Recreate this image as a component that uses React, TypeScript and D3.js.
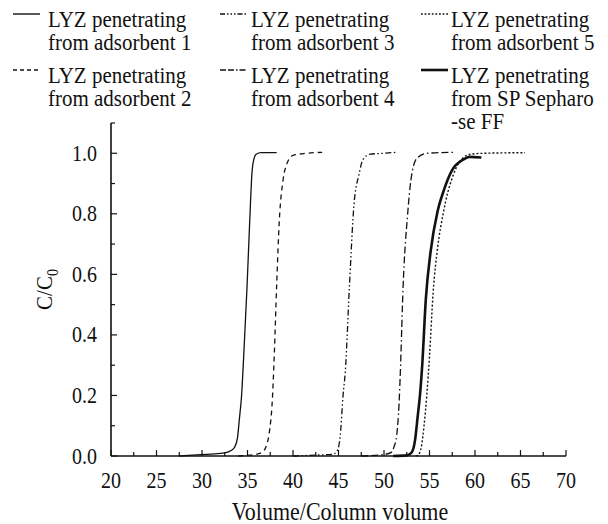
import React from "react";
import * as d3 from "d3";

// ---- data ----
const adsorbent1: [number, number][] = [
  [27.5, 0], [29, 0.003], [31, 0.006], [32.5, 0.01], [33.2, 0.018], [33.6, 0.03],
  [33.9, 0.06], [34.1, 0.12], [34.35, 0.2], [34.6, 0.34], [34.95, 0.56], [35.25, 0.78],
  [35.5, 0.94], [35.7, 0.98], [35.95, 0.997], [36.5, 1.002], [38.2, 1.002],
];
const adsorbent2: [number, number][] = [
  [34, 0], [35, 0.002], [36, 0.006], [36.6, 0.012], [37.1, 0.036], [37.45, 0.09],
  [37.7, 0.17], [37.95, 0.34], [38.2, 0.56], [38.5, 0.78], [38.9, 0.91], [39.35, 0.967],
  [40, 0.993], [41.5, 1.0], [43.2, 1.003],
];
const adsorbent3: [number, number][] = [
  [40, 0], [42.5, 0.003], [44.4, 0.006], [44.9, 0.02], [45.2, 0.07], [45.5, 0.2],
  [45.75, 0.28], [46.2, 0.56], [46.7, 0.83], [47.25, 0.93], [47.7, 0.98], [48.5, 0.997],
  [50, 1.0], [51.3, 1.003],
];
const adsorbent4: [number, number][] = [
  [47.5, 0], [50, 0.005], [50.8, 0.012], [51.1, 0.03], [51.4, 0.07], [51.65, 0.17],
  [51.8, 0.28], [52.1, 0.56], [52.6, 0.8], [52.95, 0.91], [53.6, 0.983], [54.7, 1.0],
  [57.6, 1.003],
];
const adsorbent5: [number, number][] = [
  [53.5, 0], [53.8, 0.005], [54.1, 0.03], [54.4, 0.1], [54.7, 0.2], [55.0, 0.33],
  [55.4, 0.54], [55.9, 0.69], [56.5, 0.8], [57.0, 0.87], [57.4, 0.91], [57.9, 0.95],
  [58.7, 0.985], [59.5, 0.997], [61, 1.0], [65.5, 1.002],
];
const spSepharose: [number, number][] = [
  [51, 0], [52.5, 0.002], [53.0, 0.01], [53.4, 0.05], [53.7, 0.13], [53.95, 0.2],
  [54.2, 0.3], [54.6, 0.52], [55.1, 0.67], [55.9, 0.81], [56.6, 0.88], [57.5, 0.945],
  [58.7, 0.979], [59.4, 0.988], [60.7, 0.986],
];

const xTicks = [20, 25, 30, 35, 40, 45, 50, 55, 60, 65, 70];
const xMinorTicks = [22.5, 27.5, 32.5, 37.5, 42.5, 47.5, 52.5, 57.5, 62.5, 67.5];
const yTicks = [0, 0.2, 0.4, 0.6, 0.8, 1.0];
const yMinorTicks = [0.1, 0.3, 0.5, 0.7, 0.9, 1.1];

const legendLabels: string[][] = [
  ["LYZ penetrating", "from adsorbent 1"],
  ["LYZ penetrating", "from adsorbent 2"],
  ["LYZ penetrating", "from adsorbent 3"],
  ["LYZ penetrating", "from adsorbent 4"],
  ["LYZ penetrating", "from adsorbent 5"],
  ["LYZ penetrating", "from SP Sepharo", "-se FF"],
];

const seriesData = [adsorbent1, adsorbent2, adsorbent3, adsorbent4, adsorbent5, spSepharose];
const seriesDash = ["", "5,4", "6,2.5,1.5,2.5,1.5,2.5", "7,3,7,3,1.5,3", "2,2", ""];
const seriesWidth = [1.3, 1.3, 1.3, 1.3, 1.4, 2.6];
const legendDash = ["", "4,3", "5,2,1.5,2,1.5,2,1.5,2", "6,2,6,2,1.5,2", "1.8,1.8", ""];

const legendPos: [number, number][] = [
  [0, 0], [0, 1], [1, 0], [1, 1], [2, 0], [2, 1],
];

const FONT = "'Liberation Serif', 'Times New Roman', serif";
const INK = "#111";

function T(props: {
  x: number;
  y: number;
  size: number;
  anchor?: "start" | "middle" | "end";
  rotate?: number;
  children: React.ReactNode;
}) {
  const { x, y, size, anchor = "start", rotate = 0, children } = props;
  return (
    <text
      transform={`translate(${x},${y}) rotate(${rotate}) scale(1,1.12)`}
      fontSize={size}
      textAnchor={anchor}
      fill={INK}
      fontFamily={FONT}
    >
      {children}
    </text>
  );
}

export default function App() {
  const W = 608;
  const H = 524;
  const x = d3.scaleLinear().domain([20, 70]).range([111, 566]);
  const y = d3.scaleLinear().domain([0, 1.1]).range([456, 123]);
  const line = d3
    .line<[number, number]>()
    .x((d) => x(d[0]))
    .y((d) => y(d[1]))
    .curve(d3.curveMonotoneX);

  const colSymX = [13, 220, 421];
  const colTextX = [48, 251, 451];
  const rowBase = [27, 83];
  const lineH = 23;

  return (
    <div style={{ position: "absolute", left: 0, top: 0 }}>
      <svg width={W} height={H} style={{ display: "block", background: "#fff" }}>
        {/* axes */}
        <line x1={x(20)} x2={x(70)} y1={y(0)} y2={y(0)} stroke={INK} strokeWidth={1.6} />
        <line x1={x(20)} x2={x(20)} y1={y(0)} y2={y(1.1)} stroke={INK} strokeWidth={1.6} />
        {xTicks.map((t) => (
          <g key={"xt" + t}>
            <line x1={x(t)} x2={x(t)} y1={y(0)} y2={y(0) - 6} stroke={INK} strokeWidth={1.2} />
            <T x={x(t)} y={488} size={20} anchor="middle">
              {t}
            </T>
          </g>
        ))}
        {xMinorTicks.map((t) => (
          <line key={"xm" + t} x1={x(t)} x2={x(t)} y1={y(0)} y2={y(0) - 4} stroke={INK} strokeWidth={1.2} />
        ))}
        {yTicks.map((t) => (
          <g key={"yt" + t}>
            <line x1={x(20)} x2={x(20) + 6} y1={y(t)} y2={y(t)} stroke={INK} strokeWidth={1.2} />
            <T x={97} y={y(t) + 7.5} size={20} anchor="end">
              {t.toFixed(1)}
            </T>
          </g>
        ))}
        {yMinorTicks.map((t) => (
          <line key={"ym" + t} x1={x(20)} x2={x(20) + 4} y1={y(t)} y2={y(t)} stroke={INK} strokeWidth={1.2} />
        ))}
        <T x={340} y={520} size={22} anchor="middle">
          Volume/Column volume
        </T>
        <T x={52} y={y(0.55)} size={21} anchor="middle" rotate={-90}>
          C/C<tspan fontSize={14} dy={5}>0</tspan>
        </T>

        {/* curves */}
        {seriesData.map((d, i) => (
          <path
            key={"s" + i}
            d={line(d) || ""}
            fill="none"
            stroke={INK}
            strokeWidth={seriesWidth[i]}
            strokeDasharray={seriesDash[i] || undefined}
          />
        ))}

        {/* legend */}
        {legendLabels.map((lines, i) => {
          const [c, r] = legendPos[i];
          const base = rowBase[r];
          return (
            <g key={"lg" + i}>
              <line
                x1={colSymX[c]}
                x2={colSymX[c] + 27}
                y1={base - 13}
                y2={base - 13}
                stroke={INK}
                strokeWidth={i === 5 ? 2.6 : 1.4}
                strokeDasharray={legendDash[i] || undefined}
              />
              {lines.map((s, k) => (
                <T key={k} x={colTextX[c]} y={base + k * lineH} size={21}>
                  {s}
                </T>
              ))}
            </g>
          );
        })}
      </svg>
    </div>
  );
}
